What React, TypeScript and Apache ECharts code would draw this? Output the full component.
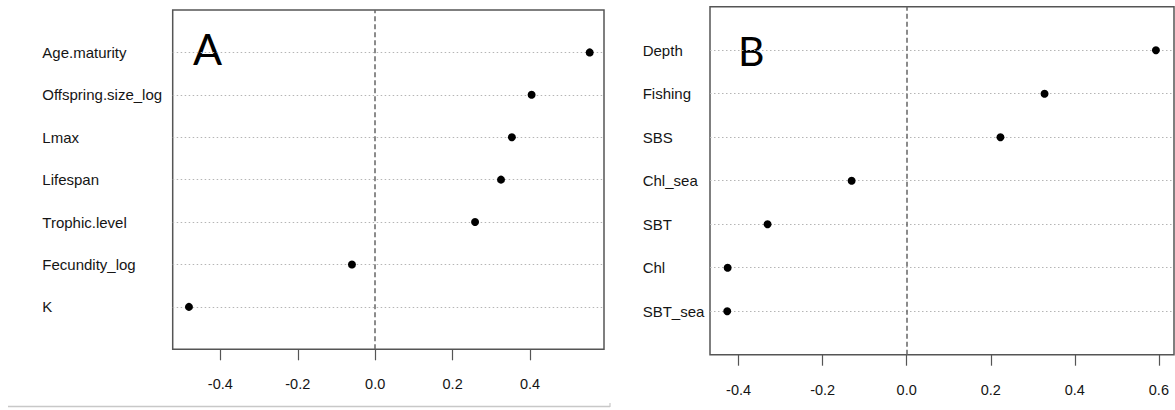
import React, { useEffect, useRef } from "react";
import * as echarts from "echarts";

// Panel A (bottom to top, as dotchart draws them)
const traitsA = ["K", "Fecundity_log", "Trophic.level", "Lifespan", "Lmax", "Offspring.size_log", "Age.maturity"];
const valuesA = [-0.481, -0.06, 0.258, 0.325, 0.353, 0.404, 0.554];
// Panel B (bottom to top)
const driversB = ["SBT_sea", "Chl", "SBT", "Chl_sea", "SBS", "Fishing", "Depth"];
const valuesB = [-0.427, -0.426, -0.331, -0.131, 0.223, 0.328, 0.593];

const ticksA = [-0.4, -0.2, 0.0, 0.2, 0.4];
const ticksB = [-0.4, -0.2, 0.0, 0.2, 0.4, 0.6];
const rangeA = [-0.523, 0.591];
const rangeB = [-0.468, 0.636];

const panelLabels = ["A", "B"];

const FONT = "Liberation Sans";

function xAxisFor(gridIndex: number, range: number[], ticks: number[]) {
  return {
    type: "value",
    gridIndex,
    min: range[0],
    max: range[1],
    axisLine: { show: false },
    splitLine: { show: false },
    axisTick: {
      show: true,
      length: 11,
      customValues: ticks,
      lineStyle: { color: "#555", width: 1.2 },
    },
    axisLabel: {
      customValues: ticks,
      margin: 27.5,
      fontSize: 14.5,
      fontFamily: FONT,
      color: "#151515",
      formatter: (v: number) => v.toFixed(1),
    },
  };
}

function yAxisFor(gridIndex: number, cats: string[], margin: number) {
  const data = ["", ...cats, ""];
  return {
    type: "category",
    gridIndex,
    data,
    boundaryGap: false,
    axisLine: { show: false },
    axisTick: { show: false, interval: 0 },
    axisLabel: {
      interval: 0,
      align: "left",
      margin,
      fontSize: 15,
      fontFamily: FONT,
      color: "#151515",
    },
    splitLine: {
      show: true,
      interval: (i: number) => i > 0 && i < data.length - 1,
      lineStyle: { color: "#b5b5b5", width: 1, type: [1.5, 2.5] },
    },
  };
}

function seriesFor(idx: number, cats: string[], vals: number[]) {
  return {
    type: "scatter",
    xAxisIndex: idx,
    yAxisIndex: idx,
    symbol: "circle",
    symbolSize: 8,
    itemStyle: { color: "#000", opacity: 1 },
    data: vals.map((v, i) => [v, cats[i]]),
    markLine: {
      silent: true,
      symbol: "none",
      label: { show: false },
      lineStyle: { color: "#666", width: 1.5, type: [5, 3] },
      data: [{ xAxis: 0 }],
    },
    z: 5,
  };
}

export default function App() {
  const ref = useRef<HTMLDivElement>(null);
  useEffect(() => {
    if (!ref.current) return;
    const chart = echarts.init(ref.current, null, { renderer: "svg" });
    chart.setOption({
      animation: false,
      backgroundColor: "#fff",
      grid: [
        { left: 172.7, top: 10, width: 431.3, height: 339.3, show: true, borderColor: "#555", borderWidth: 1.5, backgroundColor: "transparent" },
        { left: 710, top: 6.7, width: 464, height: 348, show: true, borderColor: "#555", borderWidth: 1.5, backgroundColor: "transparent" },
      ],
      xAxis: [xAxisFor(0, rangeA, ticksA), xAxisFor(1, rangeB, ticksB)],
      yAxis: [yAxisFor(0, traitsA, 130.4), yAxisFor(1, driversB, 67.3)],
      series: [seriesFor(0, traitsA, valuesA), seriesFor(1, driversB, valuesB)],
      graphic: [
        {
          type: "text",
          left: 193,
          top: 27,
          style: { text: panelLabels[0], fontSize: 43, fontFamily: "Lato", fill: "#000" },
        },
        {
          type: "text",
          left: 738,
          top: 30,
          style: { text: panelLabels[1], fontSize: 41, fontFamily: "Lato", fill: "#000" },
        },
        {
          type: "line",
          shape: { x1: 8, y1: 406.5, x2: 610, y2: 406.5 },
          style: { stroke: "#c8c8c8", lineWidth: 1.5 },
        },
        {
          type: "line",
          shape: { x1: 610, y1: 403, x2: 610, y2: 407 },
          style: { stroke: "#c8c8c8", lineWidth: 1.2 },
        },
      ],
    });
    return () => chart.dispose();
  }, []);
  return (
    <div
      ref={ref}
      style={{ position: "absolute", left: 0, top: 0, width: 1175, height: 410 }}
    />
  );
}
